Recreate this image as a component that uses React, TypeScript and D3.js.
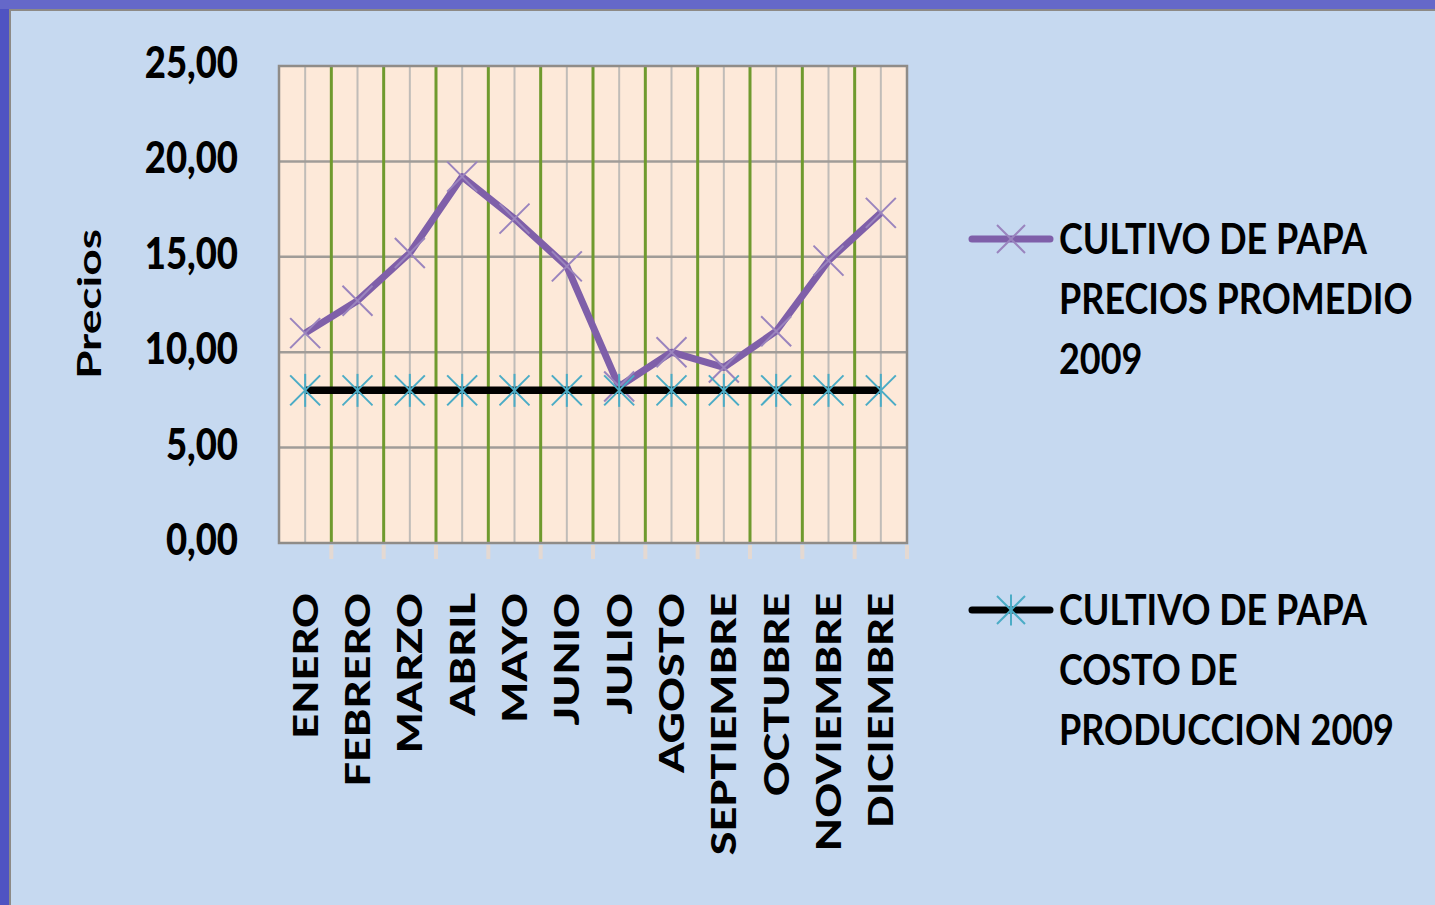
import React from "react";
import * as d3 from "d3";

const months = ["ENERO","FEBRERO","MARZO","ABRIL","MAYO","JUNIO","JULIO","AGOSTO","SEPTIEMBRE","OCTUBRE","NOVIEMBRE","DICIEMBRE"];
const precios = [11.0, 12.7, 15.2, 19.2, 17.0, 14.5, 8.2, 10.0, 9.2, 11.1, 14.8, 17.3];
const costos = [8.0, 8.0, 8.0, 8.0, 8.0, 8.0, 8.0, 8.0, 8.0, 8.0, 8.0, 8.0];
const yTicks = [0, 5, 10, 15, 20, 25];
const legendLabels = [
  ["CULTIVO DE PAPA", "PRECIOS PROMEDIO", "2009"],
  ["CULTIVO DE PAPA", "COSTO DE", "PRODUCCION 2009"],
];

const W = 1435, H = 905;
const PL = 279, PR = 907, PT = 66, PB = 543;
const FONT = "Lato, 'Open Sans', sans-serif";
const VS = 1.15;

const fmt = (v: number) => d3.format(".2f")(v).replace(".", ",");

function XMark({ cx, cy, r, color, w }: any) {
  return (
    <g stroke={color} strokeWidth={w}>
      <line x1={cx - r} y1={cy - r} x2={cx + r} y2={cy + r} />
      <line x1={cx - r} y1={cy + r} x2={cx + r} y2={cy - r} />
    </g>
  );
}
function Star({ cx, cy, r, color, w }: any) {
  return (
    <g stroke={color} strokeWidth={w}>
      <line x1={cx - r} y1={cy - r} x2={cx + r} y2={cy + r} />
      <line x1={cx - r} y1={cy + r} x2={cx + r} y2={cy - r} />
      <line x1={cx} y1={cy - r * 1.1} x2={cx} y2={cy + r * 1.1} />
    </g>
  );
}

export default function App() {
  const x = d3.scaleBand<string>().domain(months).range([PL, PR]);
  const bw = x.bandwidth();
  const cxm = (m: string) => (x(m) as number) + bw / 2;
  const y = d3.scaleLinear().domain([0, 25]).range([PB, PT]);
  const line = d3.line<number>().x((_, i) => cxm(months[i])).y((d) => y(d));

  return (
    <svg width={W} height={H} style={{ position: "fixed", left: 0, top: 0, display: "block" }}>
      <rect x={0} y={0} width={W} height={H} fill="#4f53c2" />
      <rect x={0} y={0} width={W} height={9} fill="#6568c9" />
      <rect x={10} y={10} width={W} height={H} fill="#c6d9f0" stroke="#8d8a86" strokeWidth={2} />

      {/* plot area */}
      <rect x={PL} y={PT} width={PR - PL} height={PB - PT} fill="#fde9d9" />
      {months.map((m) => (
        <line key={"mi" + m} x1={cxm(m)} x2={cxm(m)} y1={PT} y2={PB} stroke="#c0bcb8" strokeWidth={2} />
      ))}
      {yTicks.slice(1, -1).map((t) => (
        <line key={"h" + t} x1={PL} x2={PR} y1={y(t)} y2={y(t)} stroke="#a09c98" strokeWidth={2.5} />
      ))}
      {months.slice(1).map((m) => (
        <line key={"ma" + m} x1={x(m)} x2={x(m)} y1={PT} y2={PB} stroke="#6f9a2e" strokeWidth={3} />
      ))}
      {months.map((m) => (
        <line key={"tk" + m} x1={(x(m) as number) + bw} x2={(x(m) as number) + bw} y1={PB + 2} y2={PB + 16} stroke="#f2d9c6" strokeWidth={4} opacity={0.7} />
      ))}
      <rect x={PL} y={PT} width={PR - PL} height={PB - PT} fill="none" stroke="#8f8c88" strokeWidth={2.5} />

      {/* series 1 */}
      <path d={line(precios) as string} fill="none" stroke="#7f5fa9" strokeWidth={7} strokeLinejoin="round" />
      {precios.map((v, i) => (
        <XMark key={"p" + i} cx={cxm(months[i])} cy={y(v)} r={15} color="#9a84be" w={2} />
      ))}
      {/* series 2 */}
      <path d={line(costos) as string} fill="none" stroke="#000" strokeWidth={7.5} />
      {costos.map((v, i) => (
        <Star key={"c" + i} cx={cxm(months[i])} cy={y(v)} r={15} color="#4bacc6" w={2} />
      ))}

      {/* y tick labels */}
      {yTicks.map((t) => (
        <text key={"yt" + t} transform={`translate(238,${y(t) + 12}) scale(1,${VS * 1.04})`} textAnchor="end"
          fontFamily={FONT} fontWeight="900" fontSize={36.5} fill="#000">{fmt(t)}</text>
      ))}
      <text transform={`translate(101,304) rotate(-90) scale(1.4,1)`} textAnchor="middle"
        fontFamily={FONT} fontWeight="bold" fontSize={33} fill="#000">Precios</text>

      {/* month labels */}
      {months.map((m) => (
        <text key={"ml" + m} transform={`translate(${cxm(m) + 12.5},593) rotate(-90) scale(1.235,1)`} textAnchor="end"
          fontFamily={FONT} fontWeight="900" fontSize={35} fill="#000">{m}</text>
      ))}

      {/* legend */}
      {legendLabels.map((lines, k) => {
        const ly = k === 0 ? 239 : 610;
        return (
          <g key={"lg" + k}>
            <line x1={972} x2={1050} y1={ly} y2={ly} stroke={k === 0 ? "#7f5fa9" : "#000"} strokeWidth={7} strokeLinecap="round" />
            {k === 0 ? <XMark cx={1011} cy={ly} r={14} color="#9a84be" w={2} /> : <Star cx={1011} cy={ly} r={14} color="#4bacc6" w={2} />}
            {lines.map((s, j) => (
              <text key={j} transform={`translate(1059,${ly + 15 + j * 60}) scale(1,${VS})`} fontFamily={FONT} fontWeight="bold" fontSize={36} fill="#000">{s}</text>
            ))}
          </g>
        );
      })}
    </svg>
  );
}
